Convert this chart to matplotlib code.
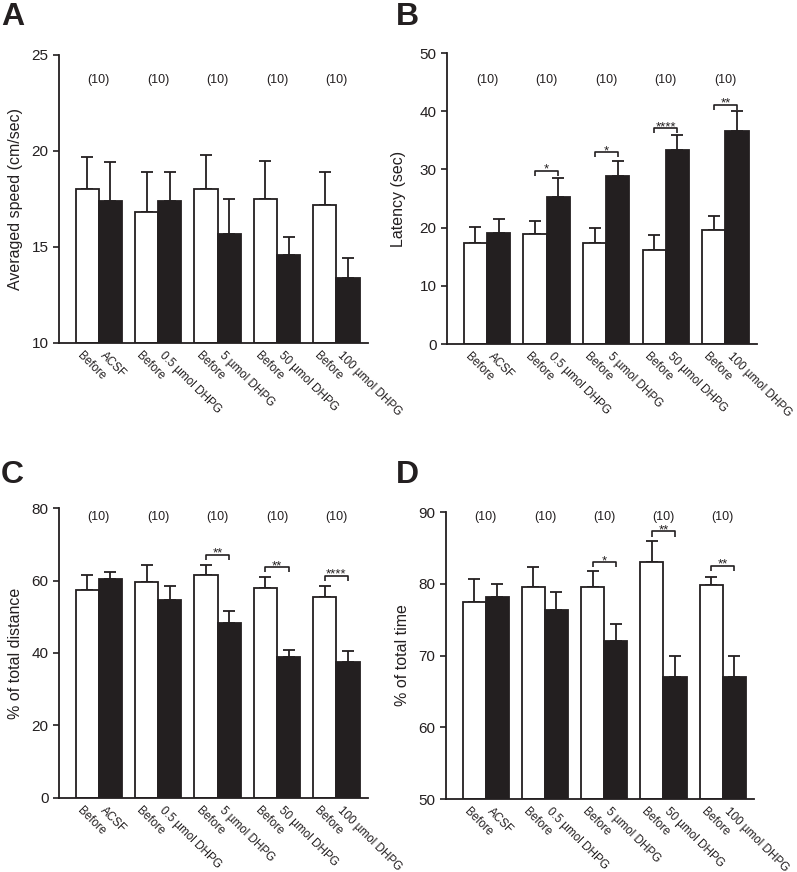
import numpy as np
import matplotlib
matplotlib.use('Agg')
import matplotlib.pyplot as plt

plt.rcParams['font.family'] = ['Liberation Sans', 'DejaVu Sans']

# x tick labels (one per bar, white then black in each group)
tick_labels = ['Before', 'ACSF', 'Before', '0.5 µmol DHPG', 'Before', '5 µmol DHPG',
               'Before', '50 µmol DHPG', 'Before', '100 µmol DHPG']
n_labels = ['(10)'] * 5

# A: averaged speed
speed_before = [18.0, 16.8, 18.0, 17.5, 17.2]
speed_before_err = [1.7, 2.1, 1.8, 2.0, 1.7]
speed_drug = [17.4, 17.4, 15.7, 14.6, 13.4]
speed_drug_err = [2.0, 1.5, 1.8, 0.9, 1.0]

# B: latency
lat_before = [17.4, 18.9, 17.4, 16.2, 19.6]
lat_before_err = [2.7, 2.2, 2.5, 2.5, 2.4]
lat_drug = [19.0, 25.2, 28.8, 33.4, 36.6]
lat_drug_err = [2.5, 3.3, 2.7, 2.5, 3.4]
lat_stars = ['', '*', '*', '****', '**']

# C: % of total distance
dist_before = [57.5, 59.5, 61.4, 58.0, 55.5]
dist_before_err = [3.9, 4.9, 3.0, 3.0, 3.0]
dist_drug = [60.4, 54.7, 48.3, 39.0, 37.4]
dist_drug_err = [2.0, 3.8, 3.3, 1.8, 3.1]
dist_stars = ['', '', '**', '**', '****']

# D: % of total time
time_before = [77.5, 79.5, 79.5, 83.0, 79.8]
time_before_err = [3.2, 2.9, 2.3, 2.9, 1.2]
time_drug = [78.2, 76.4, 72.0, 67.0, 67.0]
time_drug_err = [1.8, 2.4, 2.4, 3.0, 3.0]
time_stars = ['', '', '*', '**', '**']

black = '#231f20'
w = 0.39
x0 = 0.28

fig = plt.figure(figsize=(7.97, 8.72), dpi=100)


def panel(rect, letter, letter_xy, before, before_err, drug, drug_err, ylim, yticks,
          ylabel, n_y, stars=None, star_y=None, labelpad=6):
    ax = fig.add_axes(rect)
    idx = np.arange(5)
    xb = x0 + idx + w / 2
    xd = x0 + idx + w + w / 2
    ax.bar(xb, np.array(before) - ylim[0], w, bottom=ylim[0], color='white',
           edgecolor=black, linewidth=1.3, zorder=2)
    ax.bar(xd, np.array(drug) - ylim[0], w, bottom=ylim[0], color=black,
           edgecolor=black, linewidth=1.3, zorder=2)
    ax.errorbar(xb, before, yerr=[np.zeros(5), before_err], fmt='none',
                ecolor=black, elinewidth=1.3, capsize=4.5, capthick=1.3, zorder=1)
    ax.errorbar(xd, drug, yerr=[np.zeros(5), drug_err], fmt='none',
                ecolor=black, elinewidth=1.3, capsize=4.5, capthick=1.3, zorder=1)
    ax.set_xlim(0, 5.2)
    ax.set_ylim(*ylim)
    ax.set_yticks(yticks)
    ax.tick_params(axis='y', direction='out', length=4, width=1.2, labelsize=11,
                   colors=black)
    ax.tick_params(axis='x', length=0)
    for s in ['top', 'right']:
        ax.spines[s].set_visible(False)
    for s in ['left', 'bottom']:
        ax.spines[s].set_linewidth(1.3)
        ax.spines[s].set_color(black)
    ax.set_ylabel(ylabel, fontsize=11.5, labelpad=labelpad, color=black)

    xs = np.ravel(np.column_stack([xb, xd]))
    ax.set_xticks(xs)
    ax.set_xticklabels([])
    for x, lab in zip(xs, tick_labels):
        ax.annotate(lab, xy=(x, 0), xycoords=('data', 'axes fraction'),
                    xytext=(-6, -8), textcoords='offset points', rotation=-45,
                    rotation_mode='anchor', ha='left', va='center', fontsize=8.4,
                    color=black)
    for i, t in enumerate(n_labels):
        ax.text(x0 + i + w, n_y, t, ha='center', va='center', fontsize=9,
                color=black)
    if stars is not None:
        span = ylim[1] - ylim[0]
        leg = span * 0.018
        for i, st in enumerate(stars):
            if not st:
                continue
            y = star_y[i]
            ax.plot([xb[i], xb[i], xd[i], xd[i]], [y - leg, y, y, y - leg],
                    color=black, linewidth=1.2, solid_capstyle='butt')
            ax.annotate(st, xy=(x0 + i + w, y), xytext=(0, -1.5),
                        textcoords='offset points', ha='center', va='baseline',
                        fontsize=9.5, color=black)
    fig.text(letter_xy[0], letter_xy[1], letter, fontsize=23, fontweight='bold',
             ha='left', va='top', color=black)
    return ax


panel([0.074, 0.6067, 0.3877, 0.3303], 'A', (0.001, 0.998), speed_before,
      speed_before_err, speed_drug, speed_drug_err, (10, 25), [10, 15, 20, 25],
      'Averaged speed (cm/sec)', 23.7)

lat_bracket = [0, 29.8, 33.0, 37.1, 41.1]
panel([0.5609, 0.6055, 0.389, 0.3337], 'B', (0.497, 0.998), lat_before,
      lat_before_err, lat_drug, lat_drug_err, (0, 50), [0, 10, 20, 30, 40, 50],
      'Latency (sec)', 45.4, lat_stars, lat_bracket, labelpad=10)

dist_bracket = [0, 0, 67.1, 63.7, 61.3]
panel([0.074, 0.0849, 0.3877, 0.3325], 'C', (0.001, 0.472), dist_before,
      dist_before_err, dist_drug, dist_drug_err, (0, 80), [0, 20, 40, 60, 80],
      '% of total distance', 77.6, dist_stars, dist_bracket)

time_bracket = [0, 0, 83.0, 87.3, 82.5]
panel([0.5596, 0.0837, 0.3865, 0.3291], 'D', (0.497, 0.472), time_before,
      time_before_err, time_drug, time_drug_err, (50, 90), [50, 60, 70, 80, 90],
      '% of total time', 89.3, time_stars, time_bracket)

fig.savefig('out.png', dpi=100)
